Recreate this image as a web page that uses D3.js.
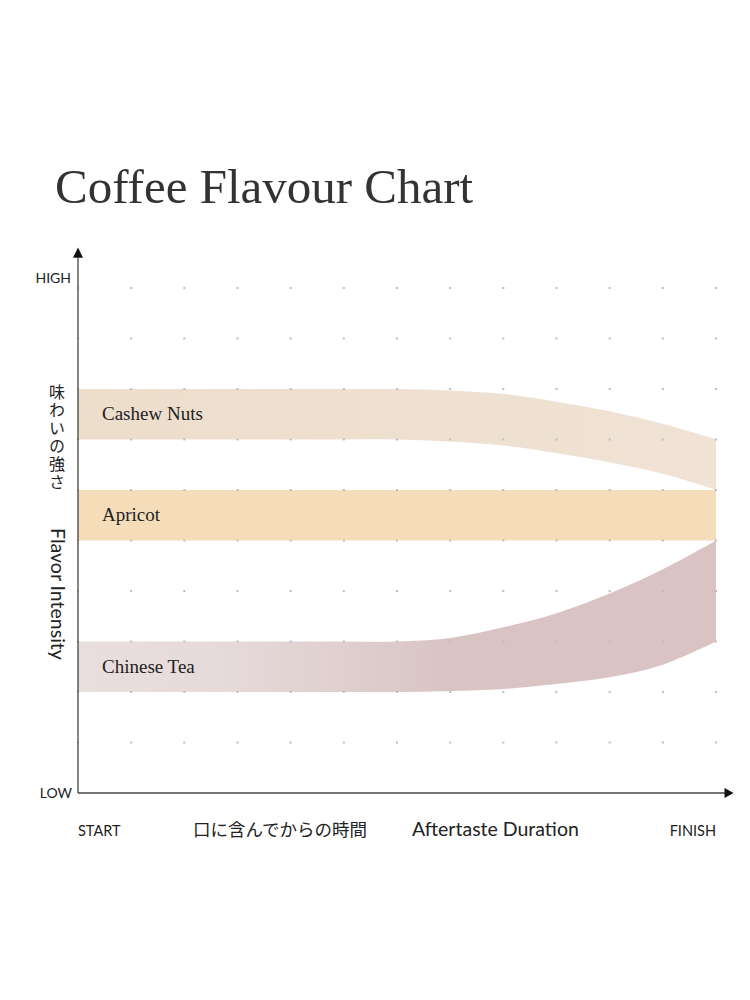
<!DOCTYPE html>
<html>
<head>
<meta charset="utf-8">
<script src="https://cdn.jsdelivr.net/npm/d3@7"></script>
<style>
  html, body { margin: 0; padding: 0; background: #fff; }
  svg { display: block; }
</style>
</head>
<body>
<div id="chart"></div>
<script>
// time steps along the x axis (START .. FINISH)
const steps = [0, 1, 2, 3, 4, 5, 6, 7, 8, 9, 10, 11, 12];

// flavour bands, upper and lower edge of each (intensity 0 = LOW, 10 = HIGH)
const flavours = ["Cashew Nuts", "Apricot", "Chinese Tea"];
const cashewTop    = [8, 8, 8, 8, 8, 8, 8, 7.97, 7.9, 7.75, 7.56, 7.31, 7];
const cashewBottom = [7, 7, 7, 7, 7, 7, 7, 6.96, 6.88, 6.73, 6.55, 6.32, 6];
const apricotTop    = [6, 6, 6, 6, 6, 6, 6, 6, 6, 6, 6, 6, 6];
const apricotBottom = [5, 5, 5, 5, 5, 5, 5, 5, 5, 5, 5, 5, 5];
const teaTop    = [3, 3, 3, 3, 3, 3, 3, 3.07, 3.28, 3.56, 3.95, 4.43, 5];
const teaBottom = [2, 2, 2, 2, 2, 2, 2, 2.02, 2.06, 2.16, 2.29, 2.54, 3];

// grid rows / columns for the dotted background
const gridRows = [1, 2, 3, 4, 5, 6, 7, 8, 9, 10];
const gridCols = [1, 2, 3, 4, 5, 6, 7, 8, 9, 10, 11, 12];

const width = 750;
const height = 1000;

const svg = d3.select("#chart")
    .append("svg")
    .attr("width", width)
    .attr("height", height);

const x = d3.scaleLinear().domain([0, 12]).range([78, 716]);
const y = d3.scaleLinear().domain([0, 10]).range([793, 288]);

// gradients
const defs = svg.append("defs");
function gradient(id, stops) {
    const g = defs.append("linearGradient")
        .attr("id", id)
        .attr("gradientUnits", "userSpaceOnUse")
        .attr("x1", x(0)).attr("x2", x(12))
        .attr("y1", 0).attr("y2", 0);
    stops.forEach(s => g.append("stop").attr("offset", s[0]).attr("stop-color", s[1]));
}
gradient("gCashew", [[0, "#EDDDCB"], [1, "#F0E3D5"]]);
gradient("gApricot", [[0, "#F5DDB9"], [1, "#F5DDB9"]]);
gradient("gTea", [[0, "#E9DEDE"], [0.25, "#E6D9D9"], [0.58, "#D9C4C4"], [1, "#D9C4C3"]]);

// title
svg.append("text")
    .attr("x", 55)
    .attr("y", 203)
    .style("font-family", "'Liberation Serif', 'DejaVu Serif', serif")
    .style("font-size", "49px")
    .style("fill", "#333")
    .text("Coffee Flavour Chart");

// bands
const bands = [
    { name: flavours[0], top: cashewTop, bottom: cashewBottom, fill: "url(#gCashew)" },
    { name: flavours[1], top: apricotTop, bottom: apricotBottom, fill: "url(#gApricot)" },
    { name: flavours[2], top: teaTop, bottom: teaBottom, fill: "url(#gTea)" }
];

const area = d3.area()
    .x(d => x(d.t))
    .y0(d => y(d.lo))
    .y1(d => y(d.hi))
    .curve(d3.curveCatmullRom.alpha(0.5));

svg.selectAll(".band")
    .data(bands)
    .enter()
    .append("path")
    .attr("class", "band")
    .attr("d", b => area(steps.map((t, i) => ({ t, hi: b.top[i], lo: b.bottom[i] }))))
    .style("fill", b => b.fill);

// band labels
svg.selectAll(".band-label")
    .data(bands)
    .enter()
    .append("text")
    .attr("class", "band-label")
    .attr("x", x(0) + 24)
    .attr("y", b => y((b.top[0] + b.bottom[0]) / 2) + 6)
    .style("font-family", "'Liberation Serif', 'DejaVu Serif', serif")
    .style("font-size", "19px")
    .style("fill", "#222")
    .text(b => b.name);

// dotted grid (drawn over the bands)
const dots = [];
gridRows.forEach(r => gridCols.forEach(c => dots.push({ r, c })));
svg.selectAll(".dot")
    .data(dots)
    .enter()
    .append("rect")
    .attr("class", "dot")
    .attr("x", d => x(d.c) - 1)
    .attr("y", d => y(d.r) - 1)
    .attr("width", 2)
    .attr("height", 2)
    .style("fill", "#bdbdbd");

// small ticks on the y axis
svg.selectAll(".ytick")
    .data(gridRows)
    .enter()
    .append("line")
    .attr("x1", x(0) - 1).attr("x2", x(0) + 1)
    .attr("y1", d => y(d)).attr("y2", d => y(d))
    .style("stroke", "#999");

// axes with arrow heads
const axisColor = "#444";
svg.append("line")
    .attr("x1", x(0)).attr("x2", x(0))
    .attr("y1", y(0)).attr("y2", y(10.6))
    .style("stroke", axisColor)
    .style("stroke-width", 1.3);
svg.append("path")
    .attr("d", `M${x(0)},${y(10.8)} L${x(0) - 5},${y(10.6)} L${x(0) + 5},${y(10.6)} Z`)
    .style("fill", "#111");

svg.append("line")
    .attr("x1", x(0)).attr("x2", x(12.2))
    .attr("y1", y(0)).attr("y2", y(0))
    .style("stroke", axisColor)
    .style("stroke-width", 1.3);
svg.append("path")
    .attr("d", `M${x(12.33)},${y(0)} L${x(12.16)},${y(0) - 5} L${x(12.16)},${y(0) + 5} Z`)
    .style("fill", "#111");

const sans = "Lato, 'Noto Sans', sans-serif";
const cjk = "'Noto Sans CJK JP', sans-serif";

// y axis end labels
svg.append("text")
    .attr("x", 71).attr("y", y(10.2) + 5)
    .attr("text-anchor", "end")
    .style("font-family", sans).style("font-size", "14px").style("fill", "#222")
    .text("HIGH");
svg.append("text")
    .attr("x", 72).attr("y", y(0) + 5)
    .attr("text-anchor", "end")
    .style("font-family", sans).style("font-size", "14px").style("fill", "#222")
    .text("LOW");

// vertical japanese title, upright characters
svg.append("text")
    .attr("x", 57)
    .attr("y", 384)
    .style("writing-mode", "vertical-rl")
    .style("text-orientation", "upright")
    .style("letter-spacing", "2px")
    .style("font-family", cjk).style("font-size", "16px").style("fill", "#222")
    .text("味わいの強さ");

// rotated english y title
svg.append("text")
    .attr("transform", "translate(51,594) rotate(90)")
    .attr("text-anchor", "middle")
    .style("font-family", sans).style("font-size", "19.5px").style("fill", "#222")
    .text("Flavor Intensity");

// x axis labels
svg.append("text")
    .attr("x", x(0)).attr("y", 836)
    .style("font-family", sans).style("font-size", "14.5px").style("fill", "#222")
    .text("START");
svg.append("text")
    .attr("x", x(12)).attr("y", 836)
    .attr("text-anchor", "end")
    .style("font-family", sans).style("font-size", "14.5px").style("fill", "#222")
    .text("FINISH");
svg.append("text")
    .attr("x", 193).attr("y", 836)
    .style("font-family", cjk).style("font-size", "17.5px").style("fill", "#222")
    .text("口に含んでからの時間");
svg.append("text")
    .attr("x", 412).attr("y", 836)
    .style("font-family", sans).style("font-size", "19.5px").style("fill", "#222")
    .text("Aftertaste Duration");
</script>
</body>
</html>
